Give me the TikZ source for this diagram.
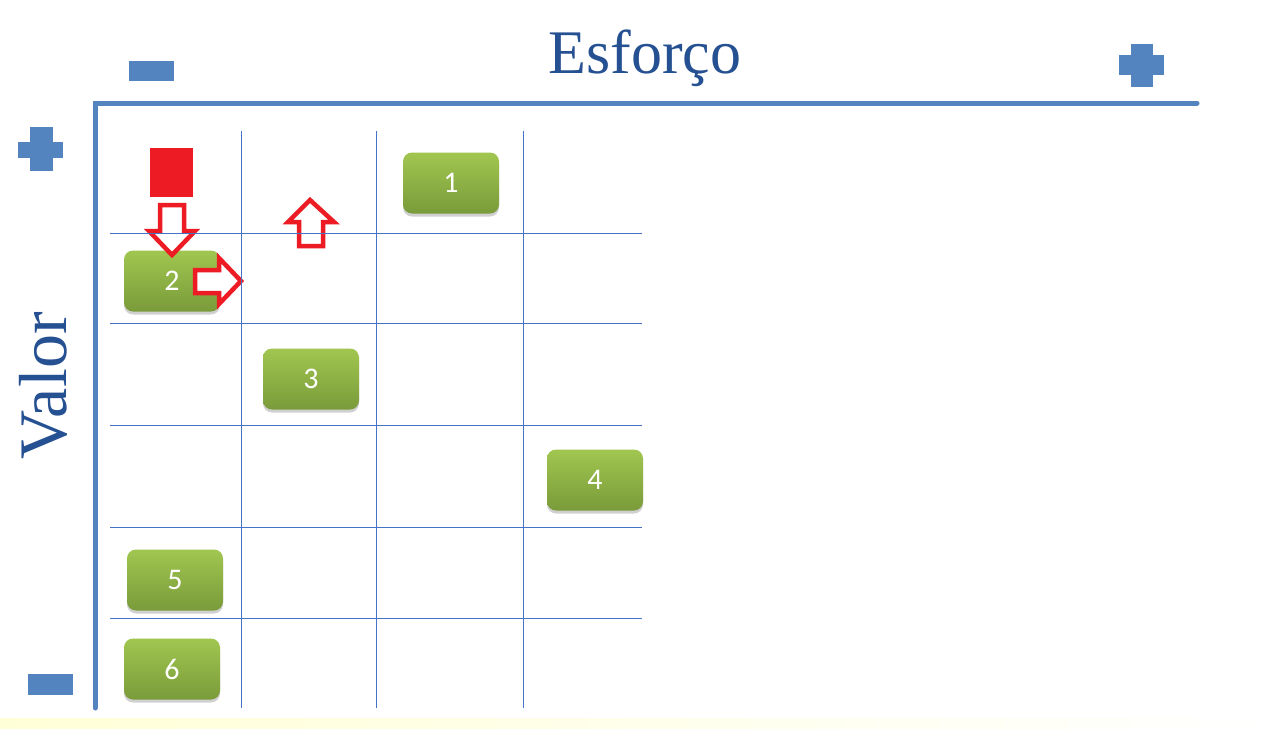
\documentclass[tikz,border=0pt]{standalone}
\usepackage{fontspec}
\setmainfont{Liberation Serif}
\newfontfamily\boxfont{Carlito}
\usetikzlibrary{shadows}
\definecolor{axisblue}{RGB}{83,132,192}
\definecolor{gridblue}{RGB}{68,114,196}
\definecolor{titleblue}{RGB}{37,80,145}
\definecolor{greentop}{RGB}{161,198,80}
\definecolor{greenbot}{RGB}{122,155,58}
\definecolor{arrred}{RGB}{237,28,36}
\definecolor{paleyellow}{RGB}{255,255,215}
\tikzset{
  gbox/.style={rounded corners=9pt, minimum width=96pt, minimum height=61pt,
    top color=greentop, bottom color=greenbot, draw=none,
    drop shadow={shadow xshift=0pt, shadow yshift=-3pt, opacity=0.3, fill=black!60},
    text=white, font=\boxfont\fontsize{30}{32}\selectfont, inner sep=0pt},
  axisline/.style={line width=5pt, draw=axisblue},
  gridline/.style={line width=1pt, draw=gridblue},
  sign/.style={fill=axisblue, draw=none},
  hollowarrow/.style={draw=arrred, line width=4.5pt, fill=white, line join=miter},
  title/.style={text=titleblue, inner sep=0pt}
}
\begin{document}
\begin{tikzpicture}[x=1pt, y=-1pt]
\useasboundingbox (0,0) rectangle (1274,728);
\fill[white] (0,0) rectangle (1274,728);
\shade[left color=paleyellow, right color=white] (0,718) rectangle (1274,728);

% axes
\draw[axisline, line cap=round] (95,708) -- (95,103) -- (1197,103);

% signs
\fill[sign] (129,61) rectangle (174,81);
\fill[sign] (1131,44) rectangle (1153,87);
\fill[sign] (1119,55) rectangle (1164,75);
\fill[sign] (30,127) rectangle (53,171);
\fill[sign] (18,142) rectangle (63,158);
\fill[sign] (28,674) rectangle (73,695);

% titles
\node[title, anchor=base, font=\fontsize{62}{70}\selectfont] (esforco) at (645,73) {Esforço};
\node[title, anchor=base, rotate=90, font=\fontsize{68}{76}\selectfont] (valor) at (66,386) {Valor};

% green boxes
\node[gbox] (b1) at (451,183) {1};
\node[gbox] (b2) at (172,281) {2};
\node[gbox] (b3) at (311,379) {3};
\node[gbox] (b4) at (595,480) {4};
\node[gbox] (b5) at (175,580) {5};
\node[gbox] (b6) at (172,669) {6};

% red square
\fill[arrred] (150,148) rectangle (193,197);

% hollow arrows
\draw[hollowarrow] (160,205) -- (184,205) -- (184,231) -- (195,231) -- (172,255) -- (149,231) -- (160,231) -- cycle;
\draw[hollowarrow] (195,270) -- (219,270) -- (219,258) -- (241,281) -- (219,304) -- (219,293) -- (195,293) -- cycle;
\draw[hollowarrow] (299,246) -- (299,222) -- (288,222) -- (310,200) -- (334,222) -- (323,222) -- (323,246) -- cycle;

% grid
\foreach \x in {241,376,523} \draw[gridline] (\x,131) -- (\x,708);
\foreach \y in {233,323,425,527,618} \draw[gridline] (110,\y) -- (642,\y);
\end{tikzpicture}
\end{document}
